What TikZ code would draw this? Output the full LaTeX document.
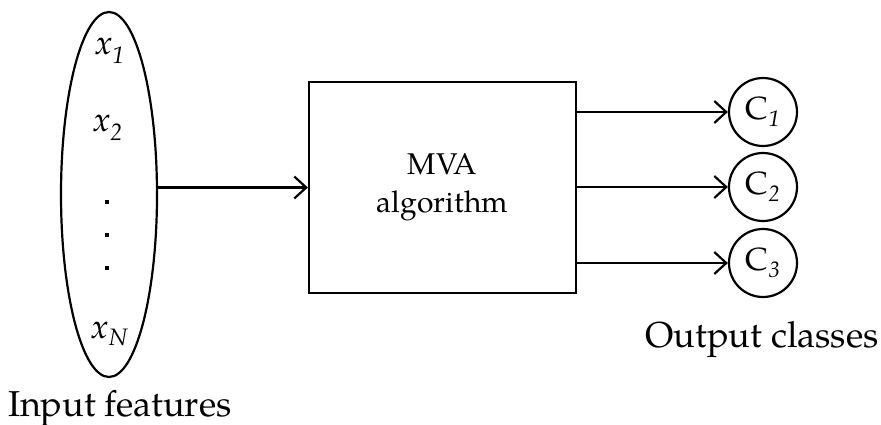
\documentclass[tikz,border=0pt]{standalone}
\usepackage{fontspec}
\setmainfont{TeX Gyre Pagella}
\usetikzlibrary{shapes.geometric,arrows.meta}

\tikzset{
  lbl/.style={font=\fontsize{34}{40}\selectfont, inner sep=0pt, anchor=base},
  caption/.style={inner sep=0pt, anchor=base, font=\fontsize{36}{40}\selectfont},
  feature/.style={draw, ellipse, line width=2.2pt, inner sep=0pt,
    minimum width=96pt, minimum height=365pt},
  dotmark/.style={fill, rectangle, inner sep=0pt, minimum size=4.5pt},
  algobox/.style={draw, rectangle, line width=2.2pt, inner sep=0pt,
    minimum width=267pt, minimum height=211pt, align=center,
    font=\fontsize{30}{38}\selectfont},
  cls/.style={draw, circle, line width=2.2pt, inner sep=0pt,
    minimum size=68pt, font=\fontsize{32}{36}\selectfont},
  flow/.style={line width=2.2pt, -{Straight Barb[length=12pt,width=22pt,line width=2.2pt]}}
}

\begin{document}
\begin{tikzpicture}[x=1pt,y=-1pt]
  \useasboundingbox (0,0) rectangle (881,425);

  % input feature vector
  \node[feature] (feat) at (109,194.5) {};
  \node[lbl] (x1) at (110,55) {\itshape x\textsubscript{1}};
  \node[lbl] (x2) at (108,132) {\itshape x\textsubscript{2}};
  \node[dotmark] (d1) at (107,202) {};
  \node[dotmark] (d2) at (107,235) {};
  \node[dotmark] (d3) at (107,268) {};
  \node[lbl] (xN) at (110,338) {\itshape x\textsubscript{N}};
  \node[caption] (inlbl) at (120,416) {Input features};

  % classifier
  \node[algobox] (mva) at (442.5,187.5) {MVA\\algorithm};

  % output classes
  \node[cls] (c1) at (763,112) {C\textsubscript{\itshape 1}};
  \node[cls] (c2) at (763,187) {C\textsubscript{\itshape 2}};
  \node[cls] (c3) at (763,263) {C\textsubscript{\itshape 3}};
  \node[caption] (outlbl) at (762,347) {Output classes};

  % connectors
  \draw[flow] (feat.east |- mva.west) -- (mva.west);
  \draw[flow] (mva.east |- c1.west) -- (c1.west);
  \draw[flow] (mva.east |- c2.west) -- (c2.west);
  \draw[flow] (mva.east |- c3.west) -- (c3.west);
\end{tikzpicture}
\end{document}
